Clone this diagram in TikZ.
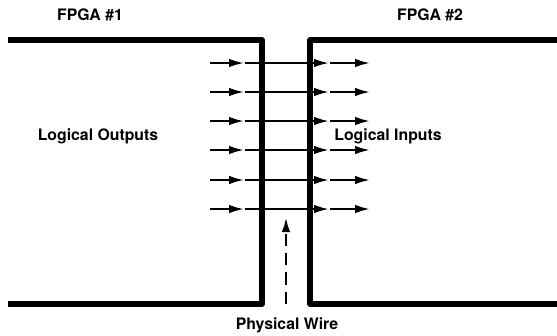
\documentclass[tikz,border=0pt]{standalone}
\usepackage{fontspec}
\setmainfont{TeX Gyre Heros}
\usetikzlibrary{arrows.meta}

\begin{document}
\begin{tikzpicture}[x=0.02cm, y=-0.02cm,
    wall/.style={line width=3.2pt, line join=round},
    wire/.style={line width=1.6pt, -{Latex[length=3.2mm, width=1.7mm]}},
    lbl/.style={font=\fontsize{9}{10}\selectfont\bfseries}]
  \useasboundingbox (0,0) rectangle (557,335);
  % The two FPGA outlines.
  \draw[wall] (8,40) -- (262,40) -- (262,304) -- (8,304);
  \draw[wall] (557,40) -- (310,40) -- (310,304) -- (557,304);
  % Logical signals crossing the gap.
  \foreach \y [count=\i] in {63,92,121,150,180,209} {
    \coordinate (s\i) at (210,\y);
    \coordinate (a\i) at (245,\y);
    \coordinate (b\i) at (330,\y);
    \coordinate (e\i) at (371,\y);
    \draw[wire] (s\i) -- (a\i);
    \draw[wire] (a\i) -- (b\i);
    \draw[wire] (b\i) -- (e\i);
  }
  % The physical wire (dashed, upward).
  \coordinate (pw0) at (286,304);
  \coordinate (pw1) at (286,217);
  \draw[line width=1.5pt, dash pattern=on 7pt off 4pt,
    -{Latex[length=3mm, width=1.7mm]}] (pw0) -- (pw1);
  % Labels.
  \node[lbl] (f1) at (90,15) {FPGA \#1};
  \node[lbl] (f2) at (430,15) {FPGA \#2};
  \node[lbl] (out) at (98,136) {Logical Outputs};
  \node[lbl] (in) at (388,136) {Logical Inputs};
  \node[lbl] (phys) at (287,325) {Physical Wire};
\end{tikzpicture}
\end{document}
